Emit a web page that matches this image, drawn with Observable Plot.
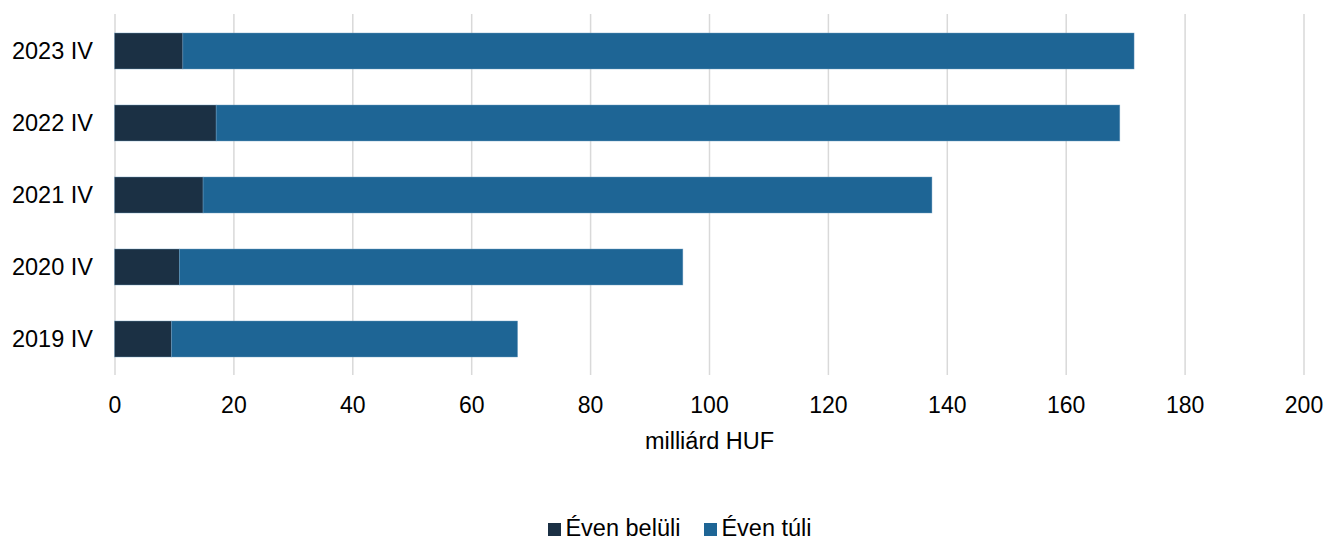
<!DOCTYPE html>
<html>
<head>
<meta charset="utf-8">
<script src="https://cdn.jsdelivr.net/npm/d3@7"></script>
<script src="https://cdn.jsdelivr.net/npm/@observablehq/plot@0.6"></script>
<style>
  body { margin: 0; background: #fff; font-family: "Liberation Sans", Arial, sans-serif; }
  #wrap { position: relative; width: 1325px; height: 540px; overflow: hidden; }
  #legend { position: absolute; left: 0; top: 514px; width: 1325px; height: 24px; text-align: center; font-size: 23.5px; line-height: 24px; color: #000; padding-left: 35px; box-sizing: border-box; }
  .item { display: inline-flex; align-items: center; margin: 0 12px; }
  .sw { width: 13px; height: 13px; display: inline-block; margin-right: 4px; position: relative; top: 2px; }
</style>
</head>
<body>
<div id="wrap">
  <div id="chart"></div>
  <div id="legend"></div>
</div>
<script>
const categories = ["2023 IV", "2022 IV", "2021 IV", "2020 IV", "2019 IV"];
const seriesNames = ["Éven belüli", "Éven túli"];
const withinYear = [11.5, 17.1, 14.9, 10.9, 9.6];
const beyondYear = [160.0, 152.0, 122.6, 84.7, 58.2];
const colors = ["#1b3044", "#1e6595"];
const xTicks = [0, 20, 40, 60, 80, 100, 120, 140, 160, 180, 200];

const data = [];
categories.forEach((c, i) => {
  data.push({cat: c, series: seriesNames[0], value: withinYear[i], order: 0});
  data.push({cat: c, series: seriesNames[1], value: beyondYear[i], order: 1});
});

const chart = Plot.plot({
  width: 1325,
  height: 460,
  marginLeft: 114.5,
  marginRight: 21.5,
  marginTop: 14,
  marginBottom: 85,
  style: { fontFamily: "Liberation Sans, Arial, sans-serif", fontSize: "23.5px", color: "#000", background: "#fff" },
  x: { domain: [0, 200], ticks: xTicks, label: null },
  y: { domain: categories, paddingInner: 0.5, paddingOuter: 0.25, label: null },
  color: { domain: seriesNames, range: colors },
  marks: [
    Plot.gridX(xTicks, { stroke: "#d9d9d9", strokeOpacity: 1, strokeWidth: 1.5 }),
    Plot.barX(data, Plot.stackX({ x: "value", y: "cat", fill: "series", order: "order", stroke: "#6f9cc0", strokeWidth: 0.6, strokeOpacity: 0.7 })),
    Plot.axisX({ ticks: xTicks, tickSize: 0, tickPadding: 21, fontSize: 23, label: null }),
    Plot.axisY({ tickSize: 0, tickPadding: 22, fontSize: 23.5, label: null }),
    Plot.text(["milliárd HUF"], { frameAnchor: "bottom", dy: 66, lineAnchor: "middle", fontSize: 23.5, fill: "#000" })
  ]
});
document.getElementById("chart").appendChild(chart);

const legend = document.getElementById("legend");
seriesNames.forEach((s, i) => {
  const item = document.createElement("span");
  item.className = "item";
  const sw = document.createElement("span");
  sw.className = "sw";
  sw.style.background = colors[i];
  item.appendChild(sw);
  item.appendChild(document.createTextNode(s));
  legend.appendChild(item);
});
</script>
</body>
</html>
